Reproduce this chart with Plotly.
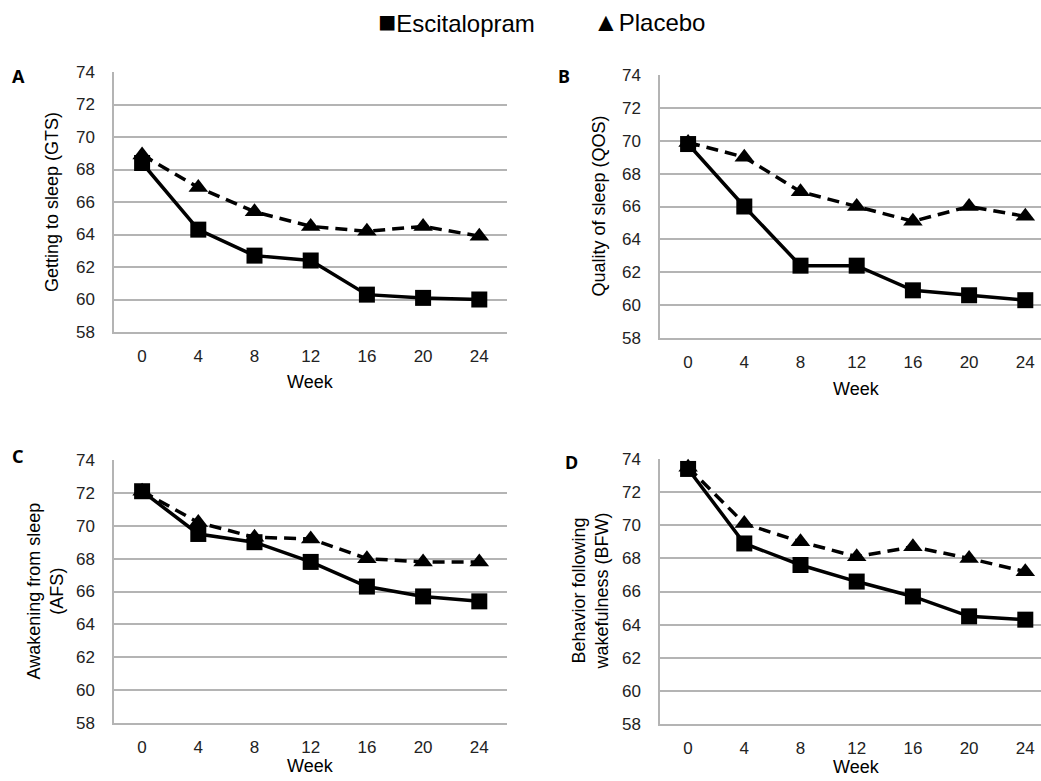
import plotly.graph_objects as go

weeks = ["0", "4", "8", "12", "16", "20", "24"]

gts_esc = [68.4, 64.3, 62.7, 62.4, 60.3, 60.1, 60.0]
gts_pla = [68.9, 66.9, 65.4, 64.5, 64.2, 64.5, 63.9]
qos_esc = [69.8, 66.0, 62.4, 62.4, 60.9, 60.6, 60.3]
qos_pla = [69.9, 69.0, 66.9, 66.0, 65.1, 66.0, 65.4]
afs_esc = [72.1, 69.5, 69.0, 67.8, 66.3, 65.7, 65.4]
afs_pla = [72.1, 70.2, 69.3, 69.2, 68.0, 67.8, 67.8]
bfw_esc = [73.4, 68.9, 67.6, 66.6, 65.7, 64.5, 64.3]
bfw_pla = [73.5, 70.1, 69.0, 68.1, 68.7, 68.0, 67.2]

y_ticks = [58, 60, 62, 64, 66, 68, 70, 72, 74]
panel_letters = ["A", "B", "C", "D"]
y_titles = ["Getting to sleep (GTS)", "Quality of sleep (QOS)",
            "Awakening from sleep<br>(AFS)", "Behavior following<br>wakefulness (BFW)"]
x_title = "Week"
series_names = ["Escitalopram", "Placebo"]

W, H = 1041, 781
def px(x): return x / W
def py(y): return 1 - y / H

panels = [
    (114, 507, 72, 332),
    (660, 1041, 75, 338),
    (114, 507, 460, 723),
    (660, 1041, 459, 724),
]
letter_pos = [(10, 76), (556, 76), (10, 456), (563, 462)]
ytitle_x = [52, 598, 45, 590]
week_y = [382, 389, 766, 767]
data = [(gts_esc, gts_pla), (qos_esc, qos_pla), (afs_esc, afs_pla), (bfw_esc, bfw_pla)]

fig = go.Figure()
layout = dict(width=W, height=H, autosize=False,
              margin=dict(l=0, r=0, t=0, b=0, autoexpand=False),
              paper_bgcolor="white", plot_bgcolor="white", showlegend=False)
annotations = []
grid_col = "#b4b4b4"
tick_font = dict(family="Liberation Sans, Arial", size=17, color="#222")
step = 56.2

for i, ((l, r, t, b), (esc, pla)) in enumerate(zip(panels, data)):
    n = i + 1
    xa = "xaxis" if n == 1 else f"xaxis{n}"
    ya = "yaxis" if n == 1 else f"yaxis{n}"
    xr = "x" if n == 1 else f"x{n}"
    yr = "y" if n == 1 else f"y{n}"
    xmax = -0.5 + (r - l) / step
    layout[xa] = dict(domain=[px(l), px(r)], anchor=yr, type="category",
                      range=[-0.5, xmax], showgrid=False, showline=True,
                      linecolor=grid_col, linewidth=1.5, ticks="", zeroline=False,
                      tickfont=tick_font, ticklabelstandoff=8, fixedrange=True)
    layout[ya] = dict(domain=[py(b), py(t)], anchor=xr, range=[58, 74],
                      tickvals=y_ticks, showgrid=True, gridcolor=grid_col, gridwidth=1.5,
                      showline=True, linecolor=grid_col, linewidth=1.5, ticks="",
                      zeroline=False, tickfont=tick_font, ticklabelstandoff=14)
    fig.add_trace(go.Scatter(x=weeks, y=pla, xaxis=xr, yaxis=yr, mode="lines+markers",
                             name=series_names[1], cliponaxis=False,
                             line=dict(color="black", width=3.5, dash="12px,7px"),
                             marker=dict(symbol="triangle-up", size=17, color="black")))
    fig.add_trace(go.Scatter(x=weeks, y=esc, xaxis=xr, yaxis=yr, mode="lines+markers",
                             name=series_names[0], cliponaxis=False,
                             line=dict(color="black", width=3.5),
                             marker=dict(symbol="square", size=16, color="black")))
    lx, ly = letter_pos[i]
    annotations.append(dict(text=f"<b>{panel_letters[i]}</b>", xref="paper", yref="paper",
                            x=px(lx), y=py(ly), xanchor="left", yanchor="middle",
                            showarrow=False,
                            font=dict(family="Noto Sans, Arial", size=18, color="black")))
    annotations.append(dict(text=y_titles[i], xref="paper", yref="paper",
                            x=px(ytitle_x[i]), y=py((t + b) / 2), textangle=-90,
                            xanchor="center", yanchor="middle", showarrow=False,
                            font=dict(family="Liberation Sans, Arial", size=18, color="black")))
    xc = l + 3.5 * step
    annotations.append(dict(text=x_title, xref="paper", yref="paper",
                            x=px(xc), y=py(week_y[i]), xanchor="center", yanchor="middle",
                            showarrow=False,
                            font=dict(family="Liberation Sans, Arial", size=18, color="black")))

annotations.append(dict(text="<span style='font-size:30px'>■</span>" + series_names[0],
                        xref="paper", yref="paper",
                        x=px(376), y=py(22), xanchor="left", yanchor="middle", showarrow=False,
                        font=dict(family="Liberation Sans, Arial", size=24, color="black")))
annotations.append(dict(text="<span style='font-size:26px'>▲</span>" + series_names[1],
                        xref="paper", yref="paper",
                        x=px(591), y=py(22), xanchor="left", yanchor="middle", showarrow=False,
                        font=dict(family="Liberation Sans, Arial", size=24, color="black")))

layout["annotations"] = annotations
fig.update_layout(**layout)
fig.write_html("out.html", config=dict(displayModeBar=False, responsive=False),
               post_script="document.body.style.margin='0';document.body.style.overflow='hidden';")
